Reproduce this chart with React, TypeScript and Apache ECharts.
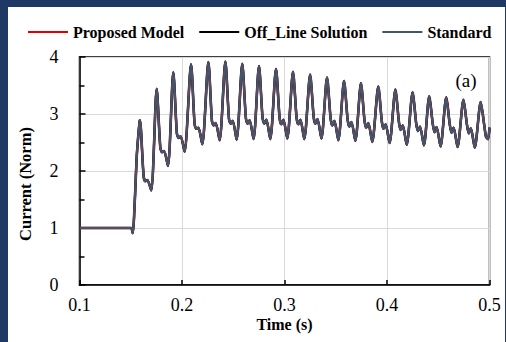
import React, { useEffect, useRef } from "react";
import * as echarts from "echarts";

const seriesNames = ["Proposed Model", "Off_Line Solution", "Standard"];
const seriesColors = ["#e00000", "#000000", "#44546a"];
const xTicks = [0.1, 0.2, 0.3, 0.4, 0.5];
const yTicks = [0, 1, 2, 3, 4];

// time (s)
const time = [
  0.1, 0.15, 0.152, 0.1535, 0.156, 0.1585, 0.159,
  0.1625, 0.1642, 0.1662, 0.17,
  0.1753, 0.1788, 0.1805, 0.1825, 0.1863,
  0.1915, 0.195, 0.1967, 0.1987, 0.2025,
  0.2088, 0.2123, 0.214, 0.216, 0.2198,
  0.2257, 0.2292, 0.2309, 0.2329, 0.2367,
  0.2423, 0.2458, 0.2475, 0.2495, 0.2533,
  0.2588, 0.2623, 0.264, 0.266, 0.2698,
  0.2751, 0.2786, 0.2803, 0.2823, 0.2861,
  0.2917, 0.2952, 0.2969, 0.2989, 0.3027,
  0.3083, 0.3118, 0.3135, 0.3155, 0.3193,
  0.325, 0.3285, 0.3302, 0.3322, 0.336,
  0.3415, 0.345, 0.3467, 0.3487, 0.3525,
  0.3581, 0.3616, 0.3633, 0.3653, 0.3691,
  0.3746, 0.3781, 0.3798, 0.3818, 0.3856,
  0.3915, 0.395, 0.3967, 0.3987, 0.4025,
  0.4082, 0.4117, 0.4134, 0.4154, 0.4192,
  0.425, 0.4285, 0.4302, 0.4322, 0.436,
  0.4412, 0.4447, 0.4464, 0.4484, 0.4522,
  0.4578, 0.4613, 0.463, 0.465, 0.4688,
  0.4746, 0.4781, 0.4798, 0.4818, 0.4856,
  0.4914, 0.4949, 0.4966, 0.4986, 0.5,
];

// normalised current (all three curves coincide in the picture)
const current = [
  1.0, 1.0, 0.91, 1.3, 2.3, 2.85, 2.89,
  1.92, 1.82, 1.84, 1.66,
  3.44, 2.42, 2.33, 2.35, 2.09,
  3.73, 2.66, 2.58, 2.61, 2.34,
  3.87, 2.82, 2.74, 2.76, 2.47,
  3.91, 2.88, 2.8, 2.84, 2.54,
  3.92, 2.92, 2.83, 2.88, 2.55,
  3.88, 2.93, 2.83, 2.89, 2.56,
  3.84, 2.93, 2.83, 2.9, 2.56,
  3.79, 2.93, 2.82, 2.9, 2.57,
  3.74, 2.93, 2.82, 2.9, 2.56,
  3.69, 2.94, 2.83, 2.91, 2.57,
  3.64, 2.92, 2.8, 2.88, 2.54,
  3.58, 2.9, 2.78, 2.86, 2.53,
  3.54, 2.88, 2.76, 2.84, 2.51,
  3.48, 2.86, 2.74, 2.82, 2.49,
  3.43, 2.85, 2.72, 2.8, 2.46,
  3.38, 2.83, 2.7, 2.78, 2.45,
  3.31, 2.82, 2.68, 2.77, 2.43,
  3.29, 2.81, 2.67, 2.76, 2.42,
  3.25, 2.8, 2.66, 2.75, 2.41,
  3.21, 2.8, 2.6, 2.56, 2.76,
];

const FONT = "'Liberation Serif', 'Times New Roman', serif";

export default function App() {
  const ref = useRef<HTMLDivElement>(null);

  useEffect(() => {
    document.body.style.margin = "0";
    if (!ref.current) return;
    const chart = echarts.init(ref.current, undefined, { renderer: "svg" });
    const data = time.map((t, i) => [t, current[i]]);
    const widths = [2.6, 2.2, 2.4];
    chart.setOption({
      animation: false,
      backgroundColor: "transparent",
      grid: {
        left: 79.5,
        right: 16.5,
        top: 57,
        bottom: 57,
        show: true,
        borderColor: "#000",
        borderWidth: 1.5,
      },
      legend: {
        left: 28,
        top: 24,
        padding: 0,
        itemWidth: 40,
        itemHeight: 2,
        itemGap: 15,
        data: seriesNames.map((n) => ({ name: n, icon: "rect" })),
        textStyle: {
          fontFamily: FONT,
          fontWeight: "bold",
          fontSize: 16,
          color: "#000",
        },
      },
      xAxis: {
        type: "value",
        min: xTicks[0],
        max: xTicks[xTicks.length - 1],
        interval: 0.1,
        name: "Time (s)",
        nameLocation: "middle",
        nameGap: 32,
        nameMoveOverlap: false,
        nameTextStyle: {
          fontFamily: FONT,
          fontWeight: "bold",
          fontSize: 16,
          lineHeight: 14,
          color: "#000",
        },
        axisLine: { lineStyle: { color: "#000", width: 1.5 } },
        axisTick: { show: true, inside: true, length: 5, lineStyle: { color: "#000", width: 1.5 } },
        axisLabel: {
          margin: 12,
          fontFamily: FONT,
          fontSize: 18,
          lineHeight: 15,
          color: "#000",
          formatter: (v: number) => v.toFixed(1),
        },
        splitLine: { show: true, lineStyle: { color: "#d9d9d9", width: 1 } },
      },
      yAxis: {
        type: "value",
        min: yTicks[0],
        max: yTicks[yTicks.length - 1],
        interval: 1,
        axisLine: { show: true, lineStyle: { color: "#000", width: 1.5 } },
        axisTick: { show: true, inside: true, length: 6, lineStyle: { color: "#000", width: 1.5 } },
        minorTick: { show: true, splitNumber: 2, length: 5, lineStyle: { color: "#000", width: 1.5 } },
        axisLabel: {
          margin: 21,
          fontFamily: FONT,
          fontSize: 18,
          color: "#000",
        },
        splitLine: { show: true, lineStyle: { color: "#d9d9d9", width: 1 } },
      },
      graphic: [
        {
          type: "text",
          x: 25,
          y: 184,
          rotation: Math.PI / 2,
          style: {
            text: "Current (Norm)",
            fontFamily: FONT,
            fontWeight: "bold",
            fontSize: 16.5,
            fill: "#000",
            align: "center",
            verticalAlign: "middle",
          },
        },
        {
          type: "text",
          x: 466,
          y: 80,
          style: {
            text: "(a)",
            fontFamily: FONT,
            fontSize: 19,
            fill: "#000",
            align: "center",
            verticalAlign: "middle",
          },
        },
      ],
      series: seriesNames.map((name, i) => ({
        name,
        type: "line",
        data,
        showSymbol: false,
        symbol: "none",
        smooth: 0.25,
        color: seriesColors[i],
        lineStyle: { color: seriesColors[i], width: widths[i] },
        z: 2 + i,
      })),
    });
    return () => chart.dispose();
  }, []);

  return (
    <div style={{ position: "relative", width: 506, height: 342, background: "#203864" }}>
      <div style={{ position: "absolute", left: 8, top: 7, width: 497, height: 335, background: "#fff" }} />
      <div ref={ref} style={{ position: "absolute", left: 0, top: 0, width: 506, height: 342 }} />
    </div>
  );
}
